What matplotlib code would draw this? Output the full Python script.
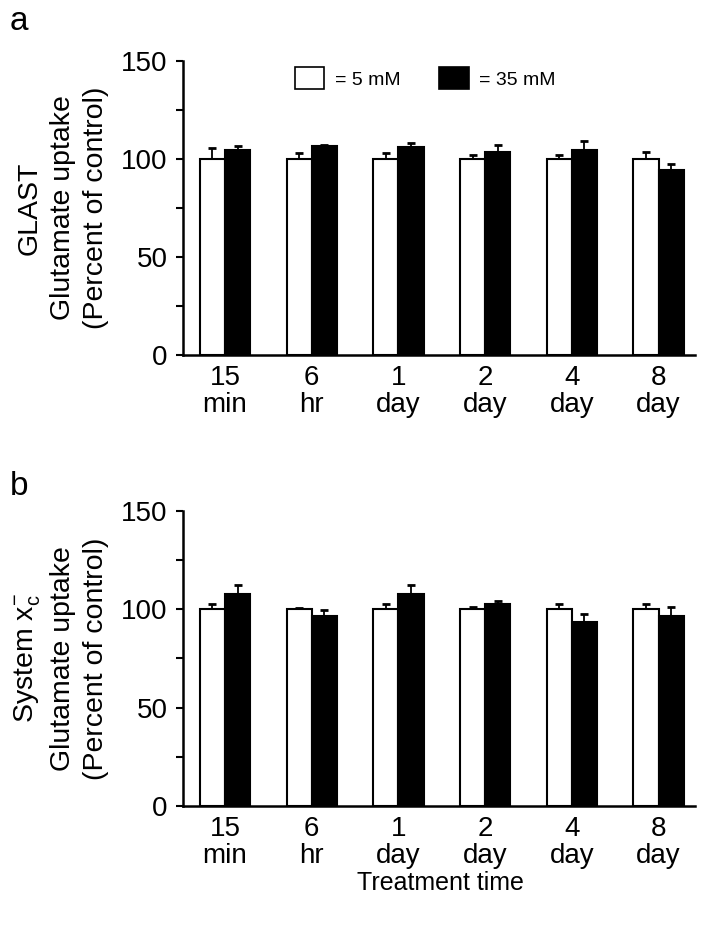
import matplotlib
matplotlib.use("Agg")
from matplotlib import pyplot as plt
from matplotlib.patches import Patch
import numpy as np

plt.rcParams['font.family'] = ['Liberation Sans', 'DejaVu Sans']
plt.rcParams['mathtext.fontset'] = 'custom'
plt.rcParams['mathtext.rm'] = 'Liberation Sans'
plt.rcParams['mathtext.it'] = 'Liberation Sans'

times = ["15\nmin", "6\nhr", "1\nday", "2\nday", "4\nday", "8\nday"]

# panel a - GLAST
glast_5 = [100, 100, 100, 100, 100, 100]
glast_5_err = [5.3, 3.2, 3.2, 1.9, 1.9, 3.6]
glast_35 = [104.6, 106.3, 106.1, 103.6, 104.6, 94.4]
glast_35_err = [1.7, 0.8, 1.7, 3.6, 4.6, 3.2]

# panel b - system xc-
xc_5 = [100, 100, 100, 100, 100, 100]
xc_5_err = [2.4, 0.5, 2.4, 1.2, 2.4, 2.5]
xc_35 = [107.6, 96.6, 107.6, 102.7, 93.6, 96.6]
xc_35_err = [4.6, 2.9, 4.6, 1.2, 3.7, 4.4]

W, H = 728, 930
fig = plt.figure(figsize=(W / 100, H / 100), dpi=100)

def axes_px(left, top, right, bottom):
    return fig.add_axes([left / W, 1 - bottom / H, (right - left) / W, (bottom - top) / H])

ax_a = axes_px(183, 60.7, 695, 355)
ax_b = axes_px(183, 510.7, 695, 806)

bw = 0.29
x = np.arange(len(times))

def draw(ax, low, low_err, high, high_err, ylabel):
    ax.bar(x - bw / 2, low, bw, color="white", edgecolor="black", linewidth=1.5, zorder=2)
    ax.bar(x + bw / 2, high, bw, color="black", edgecolor="black", linewidth=1.5, zorder=2)
    ax.errorbar(x - bw / 2, low, yerr=[np.zeros(6), low_err], fmt="none", ecolor="black",
                elinewidth=1.3, capsize=3, capthick=2, zorder=1)
    ax.errorbar(x + bw / 2, high, yerr=[np.zeros(6), high_err], fmt="none", ecolor="black",
                elinewidth=1.3, capsize=3, capthick=2, zorder=1)
    ax.set_xlim(-0.485, 5.42)
    ax.set_ylim(0, 150)
    ax.set_yticks([0, 50, 100, 150])
    ax.set_yticks([25, 75, 125], minor=True)
    ax.set_xticks(x)
    ax.set_xticklabels(times, fontsize=20, linespacing=1.05)
    ax.tick_params(axis="x", length=0, pad=7)
    ax.tick_params(axis="y", which="both", length=5, width=1.5, labelsize=20, pad=6)
    for s in ["top", "right"]:
        ax.spines[s].set_visible(False)
    for s in ["left", "bottom"]:
        ax.spines[s].set_linewidth(1.8)
    ax.set_ylabel(ylabel, fontsize=20.5, linespacing=1.35)
    ax.yaxis.set_label_coords(-0.145, 0.5)

draw(ax_a, glast_5, glast_5_err, glast_35, glast_35_err,
     "GLAST\nGlutamate uptake\n(Percent of control)")
draw(ax_b, xc_5, xc_5_err, xc_35, xc_35_err,
     "System x$_\\mathrm{c}^{\\mathrm{-}}$\nGlutamate uptake\n(Percent of control)")

handles = [Patch(facecolor="white", edgecolor="black", linewidth=1.2),
           Patch(facecolor="black", edgecolor="black", linewidth=1.2)]
ax_a.legend(handles, ["= 5 mM", "= 35 mM"], ncol=2, frameon=False, fontsize=14,
            loc="upper left", bbox_to_anchor=(0.2, 1.01), borderpad=0,
            handlelength=1.5, handleheight=1.3, handletextpad=0.55, columnspacing=2.0)

fig.text(10 / W, 1 - 30 / H, "a", fontsize=24, ha="left", va="baseline")
fig.text(10 / W, 1 - 495 / H, "b", fontsize=24, ha="left", va="baseline")
fig.text(440 / W, 1 - 883 / H, "Treatment time", fontsize=18, ha="center", va="center")

fig.savefig("out.png", dpi=100)
